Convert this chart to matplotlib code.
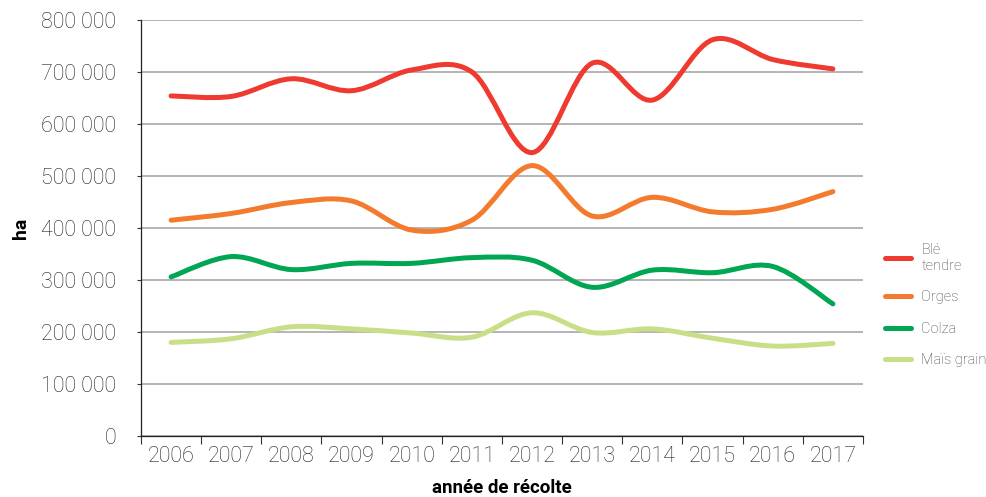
import matplotlib
matplotlib.use("Agg")
import matplotlib.pyplot as plt
from matplotlib.path import Path
from matplotlib.patches import PathPatch
from matplotlib.lines import Line2D
from matplotlib.ticker import FuncFormatter

years = ['2006', '2007', '2008', '2009', '2010', '2011',
         '2012', '2013', '2014', '2015', '2016', '2017']
ble_tendre = [654000, 653000, 687000, 664000, 704000, 700000,
              545000, 717000, 646000, 762000, 724000, 706000]
orges = [415000, 428000, 449000, 452000, 396000, 415000,
         520000, 423000, 459000, 431000, 436000, 470000]
colza = [306000, 345000, 320000, 332000, 332000, 343000,
         338000, 286000, 319000, 314000, 326000, 254000]
mais_grain = [180000, 187000, 210000, 206000, 198000, 190000,
              237000, 199000, 206000, 188000, 173000, 178000]

series = [
    ('Blé\ntendre', ble_tendre, '#ee3a2f'),
    ('Orges', orges, '#f47b2d'),
    ('Colza', colza, '#00a651'),
    ('Maïs grain', mais_grain, '#c8df88'),
]

plt.rcParams['font.family'] = ['Roboto', 'DejaVu Sans']


def smooth_path(xs, ys, t=1 / 6):
    # Catmull-Rom style bezier, like Excel smoothed lines
    verts = [(xs[0], ys[0])]
    codes = [Path.MOVETO]
    n = len(xs)
    for i in range(n - 1):
        x0, y0 = (xs[i - 1], ys[i - 1]) if i > 0 else (xs[i], ys[i])
        x1, y1 = xs[i], ys[i]
        x2, y2 = xs[i + 1], ys[i + 1]
        x3, y3 = (xs[i + 2], ys[i + 2]) if i + 2 < n else (x2, y2)
        c1 = (x1 + (x2 - x0) * t, y1 + (y2 - y0) * t)
        c2 = (x2 - (x3 - x1) * t, y2 - (y3 - y1) * t)
        verts += [c1, c2, (x2, y2)]
        codes += [Path.CURVE4] * 3
    return Path(verts, codes)


fig = plt.figure(figsize=(9.87, 4.97), dpi=100)
ax = fig.add_axes([141 / 987, 1 - 436 / 497, 722 / 987, 416 / 497])

xs = list(range(len(years)))
handles = []
for label, vals, color in series:
    p = PathPatch(smooth_path(xs, vals), facecolor='none', edgecolor=color,
                  lw=3.6, capstyle='round', joinstyle='round', zorder=3)
    ax.add_patch(p)
    handles.append(Line2D([], [], color=color, lw=3.6,
                          solid_capstyle='round', label=label))

ax.set_xlim(-0.5, len(years) - 0.5)
ax.set_ylim(0, 800000)
ax.set_yticks(range(0, 800001, 100000))
ax.yaxis.set_major_formatter(FuncFormatter(lambda v, p: f"{v:,.0f}".replace(',', ' ')))
ax.grid(axis='y', color='#b4b4b4', lw=1.4, zorder=0)
ax.set_axisbelow(True)

ax.set_xticks(xs)
ax.set_xticklabels(years)
ax.set_xticks([x - 0.5 for x in range(len(years) + 1)], minor=True)
ax.tick_params(axis='x', which='major', length=0, pad=7, labelsize=15.5,
               labelcolor='#222222')
ax.tick_params(axis='x', which='minor', length=6, width=0.8, color='#333333')
ax.tick_params(axis='y', length=3, width=0.8, color='#333333', pad=15,
               labelsize=15.5, labelcolor='#222222')
for lab in ax.get_xticklabels() + ax.get_yticklabels():
    lab.set_fontweight('light')

for side in ['top', 'right']:
    ax.spines[side].set_visible(False)
for side in ['left', 'bottom']:
    ax.spines[side].set_color('#222222')
    ax.spines[side].set_linewidth(0.9)

ax.set_xlabel('année de récolte', fontsize=13.5, fontweight='bold', labelpad=9)
ax.set_ylabel('ha', fontsize=14, fontweight='bold', labelpad=8)

leg = ax.legend(handles=handles, loc='center left', bbox_to_anchor=(1.012, 0.315),
                frameon=False, fontsize=10.5, handlelength=1.8, handletextpad=0.7,
                labelspacing=1.2, labelcolor='#444444')
for t in leg.get_texts():
    t.set_fontweight('light')

fig.savefig('out.png', dpi=100)
plt.close(fig)
